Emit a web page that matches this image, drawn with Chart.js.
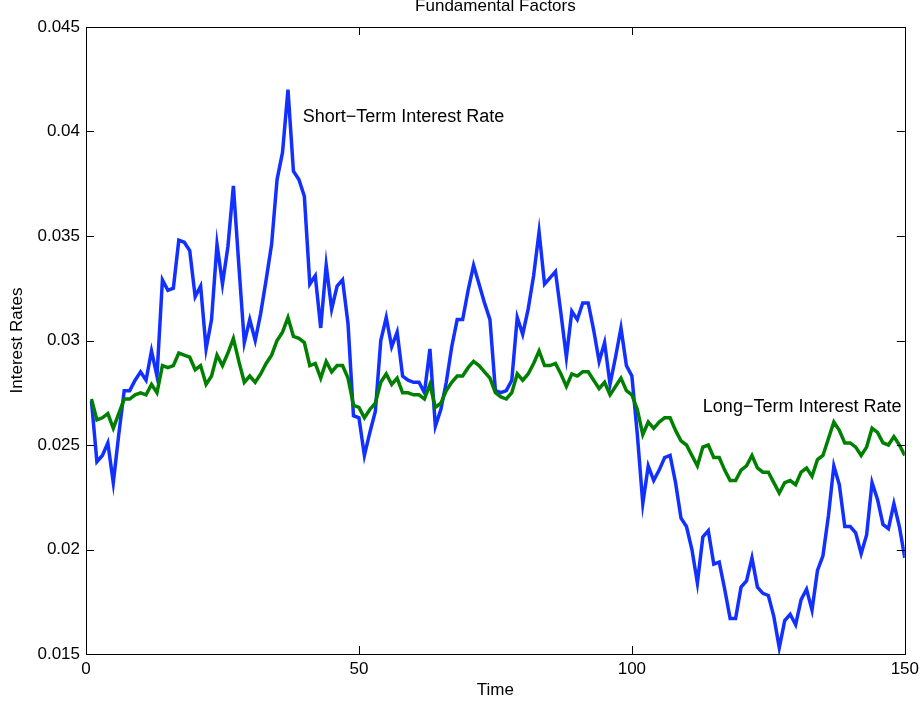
<!DOCTYPE html>
<html>
<head>
<meta charset="utf-8">
<script src="https://cdn.jsdelivr.net/npm/chart.js@4"></script>
<style>
  html, body { margin: 0; padding: 0; background: #fff; }
  #wrap { width: 924px; height: 703px; }
</style>
</head>
<body>
<div id="wrap"><canvas id="c" width="924" height="703"></canvas></div>
<script>
const timeSteps = [
  1,2,3,4,5,6,7,8,9,10,11,12,13,14,15,16,17,18,19,20,
  21,22,23,24,25,26,27,28,29,30,31,32,33,34,35,36,37,38,39,40,
  41,42,43,44,45,46,47,48,49,50,51,52,53,54,55,56,57,58,59,60,
  61,62,63,64,65,66,67,68,69,70,71,72,73,74,75,76,77,78,79,80,
  81,82,83,84,85,86,87,88,89,90,91,92,93,94,95,96,97,98,99,100,
  101,102,103,104,105,106,107,108,109,110,111,112,113,114,115,116,117,118,119,120,
  121,122,123,124,125,126,127,128,129,130,131,132,133,134,135,136,137,138,139,140,
  141,142,143,144,145,146,147,148,149,150
];

const shortRate = [
  0.0271,0.0242,0.0245,0.0251,0.0232,0.0255,0.0276,0.0276,0.0281,0.0285,
  0.0281,0.0295,0.0283,0.0329,0.0324,0.0325,0.0348,0.0347,0.0343,0.0321,
  0.0326,0.0296,0.0310,0.0346,0.0327,0.0345,0.0374,0.0336,0.0299,0.0310,
  0.0300,0.0313,0.0329,0.0346,0.0377,0.0390,0.0420,0.0381,0.0377,0.0369,
  0.0327,0.0331,0.0306,0.0336,0.0315,0.0326,0.0329,0.0308,0.0264,0.0263,
  0.0245,0.0256,0.0266,0.0300,0.0311,0.0297,0.0304,0.0283,0.0281,0.0280,
  0.0280,0.0275,0.0296,0.0259,0.0267,0.0280,0.0297,0.0310,0.0310,0.0324,
  0.0336,0.0327,0.0318,0.0310,0.0276,0.0275,0.0276,0.0281,0.0311,0.0303,
  0.0315,0.0331,0.0352,0.0327,0.0330,0.0333,0.0313,0.0292,0.0314,0.0310,
  0.0318,0.0318,0.0305,0.0290,0.0299,0.0279,0.0292,0.0306,0.0288,0.0283,
  0.0255,0.0222,0.0240,0.0233,0.0238,0.0244,0.0245,0.0232,0.0215,0.0211,
  0.0200,0.0184,0.0206,0.0209,0.0193,0.0194,0.0181,0.0167,0.0167,0.0182,
  0.0185,0.0196,0.0182,0.0179,0.0178,0.0168,0.0153,0.0166,0.0169,0.0164,
  0.0176,0.0181,0.0171,0.0190,0.0197,0.0216,0.0240,0.0231,0.0211,0.0211,
  0.0208,0.0198,0.0207,0.0232,0.0224,0.0212,0.0210,0.0222,0.0211,0.0196
];

const longRate = [
  0.0272,0.0262,0.0263,0.0265,0.0258,0.0265,0.0272,0.0272,0.0274,0.0275,
  0.0274,0.0279,0.0275,0.0288,0.0287,0.0288,0.0294,0.0293,0.0292,0.0286,
  0.0288,0.0279,0.0283,0.0293,0.0288,0.0294,0.0301,0.0290,0.0280,0.0283,
  0.0280,0.0284,0.0289,0.0293,0.0300,0.0304,0.0311,0.0302,0.0301,0.0299,
  0.0288,0.0289,0.0282,0.0290,0.0285,0.0288,0.0288,0.0282,0.0269,0.0268,
  0.0263,0.0267,0.0270,0.0280,0.0284,0.0279,0.0282,0.0275,0.0275,0.0274,
  0.0274,0.0272,0.0279,0.0268,0.0270,0.0276,0.0280,0.0283,0.0283,0.0287,
  0.0290,0.0288,0.0285,0.0282,0.0275,0.0273,0.0272,0.0275,0.0284,0.0281,
  0.0284,0.0289,0.0295,0.0288,0.0288,0.0289,0.0284,0.0278,0.0284,0.0283,
  0.0285,0.0285,0.0281,0.0277,0.0280,0.0274,0.0278,0.0282,0.0276,0.0274,
  0.0267,0.0255,0.0261,0.0258,0.0261,0.0263,0.0263,0.0257,0.0252,0.0250,
  0.0245,0.0240,0.0249,0.0250,0.0244,0.0244,0.0238,0.0233,0.0233,0.0238,
  0.0240,0.0245,0.0239,0.0237,0.0237,0.0232,0.0227,0.0232,0.0233,0.0231,
  0.0237,0.0239,0.0235,0.0243,0.0245,0.0253,0.0261,0.0257,0.0251,0.0251,
  0.0249,0.0245,0.0249,0.0258,0.0256,0.0251,0.0250,0.0254,0.0250,0.0245
];

const xTickValues = [0, 50, 100, 150];
const yTickValues = [0.015, 0.02, 0.025, 0.03, 0.035, 0.04, 0.045];
const seriesNames = ['Short\u2212Term Interest Rate', 'Long\u2212Term Interest Rate'];
const chartTitle = 'Fundamental Factors';
const xAxisTitle = 'Time';
const yAxisTitle = 'Interest Rates';

const FONT = "'Liberation Sans', Arial, Helvetica, sans-serif";

// annotation placement (data coordinates, text left edge / vertical centre)
const labelPlacement = [
  { text: seriesNames[0], x: 39.7, y: 0.04068 },
  { text: seriesNames[1], x: 113.0, y: 0.02683 }
];

const frameAndTicks = {
  id: 'frameAndTicks',
  afterDatasetsDraw(chart) {
    const { ctx, chartArea: a, scales } = chart;
    const len = 8;
    ctx.save();
    ctx.strokeStyle = '#000';
    ctx.lineWidth = 1;
    ctx.beginPath();
    xTickValues.forEach(v => {
      const px = Math.round(scales.x.getPixelForValue(v)) + 0.5;
      ctx.moveTo(px, a.bottom); ctx.lineTo(px, a.bottom - len);
      ctx.moveTo(px, a.top); ctx.lineTo(px, a.top + len);
    });
    yTickValues.forEach(v => {
      const py = Math.round(scales.y.getPixelForValue(v)) + 0.5;
      ctx.moveTo(a.left, py); ctx.lineTo(a.left + len, py);
      ctx.moveTo(a.right, py); ctx.lineTo(a.right - len, py);
    });
    ctx.stroke();
    ctx.strokeRect(Math.round(a.left) + 0.5, Math.round(a.top) + 0.5,
                   Math.round(a.right - a.left), Math.round(a.bottom - a.top));
    // series annotations
    ctx.fillStyle = '#000';
    ctx.font = '18px ' + FONT;
    ctx.textAlign = 'left';
    ctx.textBaseline = 'middle';
    labelPlacement.forEach(l => {
      ctx.fillText(l.text, scales.x.getPixelForValue(l.x), scales.y.getPixelForValue(l.y));
    });
    ctx.restore();
  }
};

const toPoints = (vals) => vals.map((v, i) => ({ x: timeSteps[i], y: v }));

new Chart(document.getElementById('c'), {
  type: 'line',
  data: {
    datasets: [
      {
        label: seriesNames[0],
        data: toPoints(shortRate),
        borderColor: 'rgb(18,48,255)',
        borderWidth: 3.5,
        pointRadius: 0,
        tension: 0,
        fill: false,
        order: 2
      },
      {
        label: seriesNames[1],
        data: toPoints(longRate),
        borderColor: 'rgb(0,128,0)',
        borderWidth: 3.5,
        pointRadius: 0,
        tension: 0,
        fill: false,
        order: 1
      }
    ]
  },
  options: {
    responsive: false,
    animation: false,
    devicePixelRatio: 1,
    layout: { padding: { left: 0, right: 18, top: 0, bottom: 0 } },
    plugins: {
      legend: { display: false },
      tooltip: { enabled: false },
      title: {
        display: true,
        text: chartTitle,
        color: '#000',
        fullSize: false,
        font: { family: FONT, size: 17, weight: 'normal', lineHeight: 0.8 },
        padding: { top: 0, bottom: 13.4 }
      }
    },
    scales: {
      x: {
        type: 'linear',
        min: 0,
        max: 150,
        afterBuildTicks: (s) => { s.ticks = xTickValues.map(v => ({ value: v })); },
        ticks: { color: '#000', font: { family: FONT, size: 17 }, padding: 5, maxRotation: 0 },
        grid: { display: false, drawTicks: false },
        border: { display: false },
        title: {
          display: true, text: xAxisTitle, color: '#000',
          font: { family: FONT, size: 17, lineHeight: 1 },
          padding: { top: 0, bottom: 4.5 }
        },
        afterFit: (s) => { s.height = 49; }
      },
      y: {
        type: 'linear',
        min: 0.015,
        max: 0.045,
        afterBuildTicks: (s) => { s.ticks = yTickValues.map(v => ({ value: v })); },
        ticks: {
          color: '#000', font: { family: FONT, size: 17 }, padding: 6,
          callback: (v) => String(parseFloat(Number(v).toFixed(3)))
        },
        grid: { display: false, drawTicks: false },
        border: { display: false },
        title: {
          display: true, text: yAxisTitle, color: '#000',
          font: { family: FONT, size: 17, lineHeight: 1 },
          padding: { top: 8.5, bottom: 0 }
        },
        afterFit: (s) => { s.width = 86; }
      }
    }
  },
  plugins: [frameAndTicks]
});
</script>
</body>
</html>
